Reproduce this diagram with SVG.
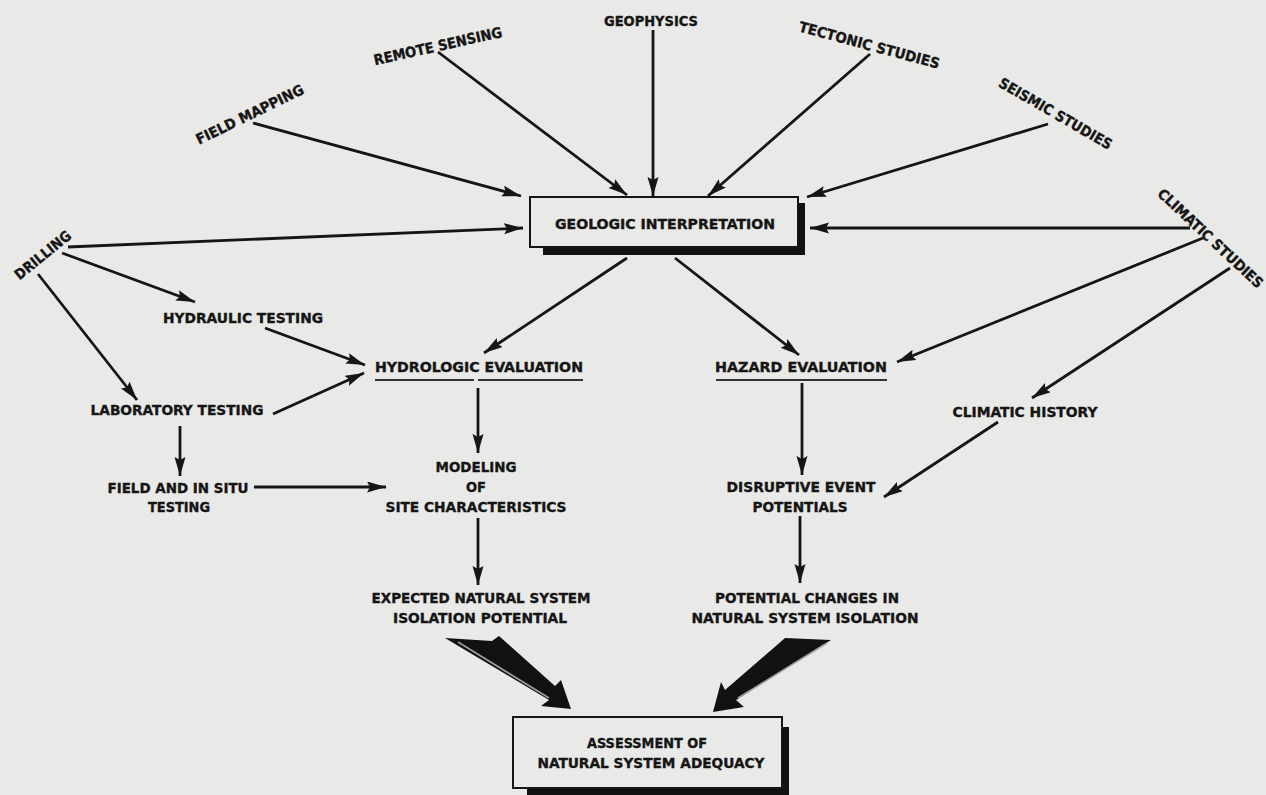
<svg xmlns="http://www.w3.org/2000/svg" width="1266" height="795" viewBox="0 0 1266 795">
<defs>
<style>
.t{font-family:"DejaVu Sans Condensed","Liberation Sans Narrow","Liberation Sans",sans-serif;font-weight:bold;font-size:14.5px;fill:#151515;stroke:#151515;stroke-width:0.35;text-anchor:middle}
.c line{stroke:#151515;stroke-width:2.8;marker-end:url(#ah)}
.box{fill:#e9e9e7;stroke:#151515;stroke-width:2}
.sh{fill:#111}
.ul{stroke:#333;stroke-width:2}
.hl{stroke:#a0a0a0;stroke-width:1.6;fill:none}
</style>
<marker id="ah" markerUnits="userSpaceOnUse" markerWidth="22" markerHeight="12" refX="19" refY="5.5" orient="auto">
<path d="M0,0 L19,5.5 L0,11 L3,5.5 Z" fill="#151515"/>
</marker>
</defs>
<rect width="1266" height="795" fill="#e9e9e7"/>

<g id="connectors" class="c">
<line x1="253" y1="123" x2="521" y2="196"/>
<line x1="438" y1="52" x2="627" y2="195"/>
<line x1="653" y1="30" x2="653" y2="196"/>
<line x1="870" y1="54" x2="708" y2="196"/>
<line x1="1048" y1="124" x2="807" y2="197"/>
<line x1="1190" y1="228" x2="810" y2="228"/>
<line x1="68" y1="247" x2="523" y2="228"/>
<line x1="62" y1="253" x2="195" y2="302"/>
<line x1="38" y1="274" x2="137" y2="400"/>
<line x1="265" y1="328" x2="365" y2="365"/>
<line x1="273" y1="414" x2="364" y2="373"/>
<line x1="180" y1="426" x2="180" y2="476"/>
<line x1="254" y1="487" x2="386" y2="487"/>
<line x1="627" y1="258" x2="484" y2="353"/>
<line x1="675" y1="258" x2="799" y2="355"/>
<line x1="1203" y1="238" x2="897" y2="362"/>
<line x1="1230" y1="268" x2="1032" y2="398"/>
<line x1="478" y1="388" x2="478" y2="453"/>
<line x1="802" y1="383" x2="802" y2="475"/>
<line x1="998" y1="422" x2="884" y2="497"/>
<line x1="478" y1="518" x2="478" y2="585"/>
<line x1="800" y1="516" x2="800" y2="583"/>
<g id="fat-arrows">
<path d="M445,638 L492,641 L499,636 L555,686 L561,680 L571,709 L541,706 L549,700 Z" fill="#111"/>
<path class="hl" d="M458,642 L549,698"/>
<path d="M831,640 L785,638 L777,645 L725,690 L721,682 L713,712 L744,707 L736,700 Z" fill="#111"/>
<path class="hl" d="M827,643 L738,698"/>
</g>
</g>

<g id="n-field-mapping"><text class="t" transform="translate(252,119) rotate(-26)" textLength="118" lengthAdjust="spacingAndGlyphs">FIELD MAPPING</text></g>
<g id="n-remote-sensing"><text class="t" transform="translate(439,51) rotate(-12.5)" textLength="131" lengthAdjust="spacingAndGlyphs">REMOTE SENSING</text></g>
<g id="n-geophysics"><text class="t" x="651" y="26" textLength="94" lengthAdjust="spacingAndGlyphs">GEOPHYSICS</text></g>
<g id="n-tectonic"><text class="t" transform="translate(868,50) rotate(15)" textLength="145" lengthAdjust="spacingAndGlyphs">TECTONIC STUDIES</text></g>
<g id="n-seismic"><text class="t" transform="translate(1053,118) rotate(30)" textLength="128" lengthAdjust="spacingAndGlyphs">SEISMIC STUDIES</text></g>
<g id="n-climatic-studies"><text class="t" transform="translate(1207,242) rotate(43)" textLength="138" lengthAdjust="spacingAndGlyphs">CLIMATIC STUDIES</text></g>
<g id="n-drilling"><text class="t" transform="translate(46,259) rotate(-39)" textLength="68" lengthAdjust="spacingAndGlyphs">DRILLING</text></g>

<g id="n-geologic">
<path class="sh" d="M543,246 L798,246 L798,203 L805,203 L805,255 L543,255 Z"/>
<rect class="box" x="530" y="197" width="268" height="50"/>
<text class="t" x="665" y="229" textLength="220" lengthAdjust="spacingAndGlyphs">GEOLOGIC INTERPRETATION</text>
</g>

<g id="n-hydraulic"><text class="t" x="243" y="323" textLength="160" lengthAdjust="spacingAndGlyphs">HYDRAULIC TESTING</text></g>
<g id="n-laboratory"><text class="t" x="177" y="415" textLength="173" lengthAdjust="spacingAndGlyphs">LABORATORY TESTING</text></g>
<g id="n-field-insitu">
<text class="t" x="178" y="493" textLength="141" lengthAdjust="spacingAndGlyphs">FIELD AND IN SITU</text>
<text class="t" x="179" y="512" textLength="62" lengthAdjust="spacingAndGlyphs">TESTING</text>
</g>

<g id="n-hydrologic">
<text class="t" x="479" y="372" textLength="208" lengthAdjust="spacingAndGlyphs">HYDROLOGIC EVALUATION</text>
<line class="ul" x1="375" y1="380" x2="474" y2="380"/>
<line class="ul" x1="478" y1="380" x2="583" y2="380"/>
</g>
<g id="n-modeling">
<text class="t" x="476" y="472" textLength="81" lengthAdjust="spacingAndGlyphs">MODELING</text>
<text class="t" x="476" y="492" textLength="20" lengthAdjust="spacingAndGlyphs">OF</text>
<text class="t" x="476" y="512" textLength="181" lengthAdjust="spacingAndGlyphs">SITE CHARACTERISTICS</text>
</g>
<g id="n-expected">
<text class="t" x="481" y="603" textLength="219" lengthAdjust="spacingAndGlyphs">EXPECTED NATURAL SYSTEM</text>
<text class="t" x="480" y="623" textLength="174" lengthAdjust="spacingAndGlyphs">ISOLATION POTENTIAL</text>
</g>

<g id="n-hazard">
<text class="t" x="801" y="372" textLength="172" lengthAdjust="spacingAndGlyphs">HAZARD EVALUATION</text>
<line class="ul" x1="716" y1="380" x2="887" y2="380"/>
</g>
<g id="n-disruptive">
<text class="t" x="801" y="492" textLength="149" lengthAdjust="spacingAndGlyphs">DISRUPTIVE EVENT</text>
<text class="t" x="800" y="512" textLength="95" lengthAdjust="spacingAndGlyphs">POTENTIALS</text>
</g>
<g id="n-potential-changes">
<text class="t" x="807" y="603" textLength="184" lengthAdjust="spacingAndGlyphs">POTENTIAL CHANGES IN</text>
<text class="t" x="805" y="623" textLength="227" lengthAdjust="spacingAndGlyphs">NATURAL SYSTEM ISOLATION</text>
</g>
<g id="n-climatic-history"><text class="t" x="1025" y="417" textLength="145" lengthAdjust="spacingAndGlyphs">CLIMATIC HISTORY</text></g>

<g id="n-assessment">
<path class="sh" d="M527,787 L782,787 L782,727 L789,727 L789,795 L527,795 Z"/>
<rect class="box" x="513" y="717" width="269" height="71"/>
<text class="t" x="647" y="748" textLength="120" lengthAdjust="spacingAndGlyphs">ASSESSMENT OF</text>
<text class="t" x="651" y="768" textLength="227" lengthAdjust="spacingAndGlyphs">NATURAL SYSTEM ADEQUACY</text>
</g>
</svg>
